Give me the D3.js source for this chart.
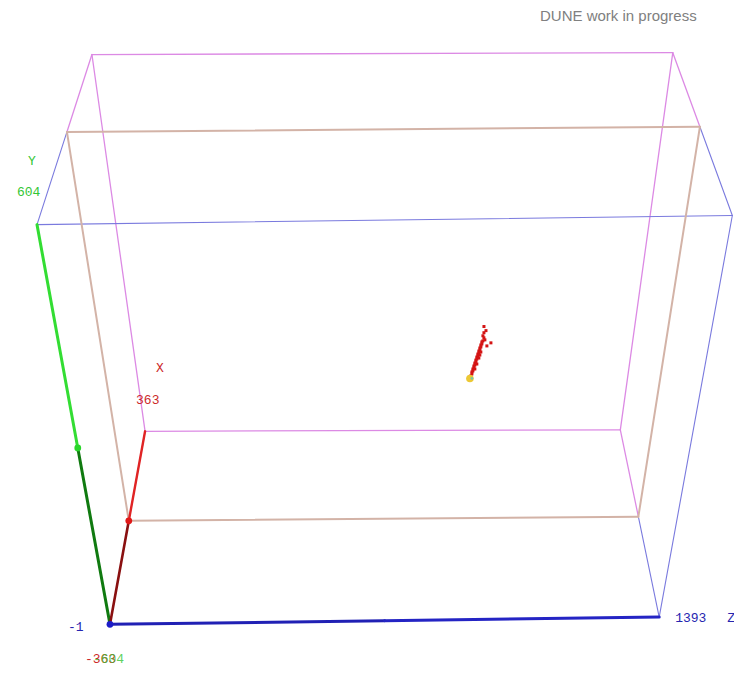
<!DOCTYPE html>
<html>
<head>
<meta charset="utf-8">
<script src="https://cdn.jsdelivr.net/npm/d3@7/dist/d3.min.js"></script>
<style>
  html, body { margin: 0; padding: 0; background: #fff; }
  svg { display: block; }
  .lbl { font-family: "Liberation Mono", "DejaVu Sans Mono", monospace; font-size: 13px; }
</style>
</head>
<body>
<svg id="chart" width="734" height="674"></svg>
<script>
// Detector extents (cm)
const xRange = [-363, 363];
const yRange = [-604, 604];
const zRange = [-1, 1393];

// Axis end labels
const xLabels = ["-363", "363"];
const yLabels = ["-604", "604"];
const zLabels = ["-1", "1393"];
const axisNames = ["X", "Y", "Z"];

// Reconstructed hits (cm)
const hitX = [0, 0, 0, 0, 0, 0, 0, 0, 0, 0, 0, 0, 0, 0, 0, 0, 0, 0, 0, 0, 0, 0, 0, 0,
              0, 0, 0, 0, 0, 0, 0, 0, 0, 0, 0, 0, 0];
const hitY = [-100.6, -94.3, -87.9, -84.7, -78.4, -75.2, -68.8, -65.7, -59.3, -56.1, -49.8, -46.6,
              -40.2, -37.0, -30.7, -27.5, -21.1, -18.0, -11.6, -8.4, -2.1, 1.1, 7.5, 10.7,
              -78.4, -62.5, -43.4, -33.9, -24.3, 20.2, 26.6, 13.8, 4.3, 36.1, 42.5, 55.2, -5.2];
const hitZ = [915.7, 917.9, 917.7, 920.0, 919.8, 922.1, 921.9, 924.2, 923.9, 926.3, 926.0, 928.4,
              928.1, 930.5, 930.2, 932.6, 932.3, 934.7, 934.4, 936.7, 936.5, 938.8, 938.6, 940.9,
              924.7, 929.0, 933.2, 935.3, 937.4, 943.0, 940.3, 945.7, 961.0, 942.4, 947.1, 941.6, 951.5];

// Interaction vertex (cm)
const vertex = [0, -109, 913.5];

const svg = d3.select("#chart");

// Normalise each detector coordinate to [-1, 1]
const sx = d3.scaleLinear().domain(xRange).range([-1, 1]);
const sy = d3.scaleLinear().domain(yRange).range([-1, 1]);
const sz = d3.scaleLinear().domain(zRange).range([-1, 1]);

// Perspective camera: homogeneous projection of normalised coordinates
function project(x, y, z) {
  const a = sx(x), b = sy(y), c = sz(z);
  const w = 1 + 0.08 * a - 0.108 * b;
  const u = 383.5 + 29.65 * a - 41.5 * b + 282.3 * c;
  const v = 345.1 - 63.3 * a - 229.7 * b + (-2.3 + 1.4 * a) * c;
  return [u / w, v / w];
}

const line = d3.line();
function seg(p0, p1, color, width) {
  svg.append("path")
    .attr("d", line([project(...p0), project(...p1)]))
    .attr("fill", "none")
    .attr("stroke", color)
    .attr("stroke-width", width)
    .attr("stroke-linecap", "round");
}

const [x0, x1] = xRange, [y0, y1] = yRange, [z0, z1] = zRange;
const xm = (x0 + x1) / 2, ym = (y0 + y1) / 2, zm = (z0 + z1) / 2;

const pink = "#dc8ae4", tan = "#d3b3a7", blueBox = "#7a7ade";

// Back half of the box (x from 0 to max)
for (const [ya, za, yb, zb] of [[y0, z0, y0, z1], [y1, z0, y1, z1], [y0, z0, y1, z0], [y0, z1, y1, z1]]) {
  seg([x1, ya, za], [x1, yb, zb], pink, 1.3);
}
for (const y of [y0, y1]) for (const z of [z0, z1]) {
  seg([xm, y, z], [x1, y, z], pink, 1.3);
}
// Front half of the box (x from min to 0)
for (const [ya, za, yb, zb] of [[y0, z0, y0, z1], [y1, z0, y1, z1], [y0, z0, y1, z0], [y0, z1, y1, z1]]) {
  seg([x0, ya, za], [x0, yb, zb], blueBox, 1.1);
}
for (const y of [y0, y1]) for (const z of [z0, z1]) {
  seg([x0, y, z], [xm, y, z], blueBox, 1.1);
}
// Central plane
for (const [ya, za, yb, zb] of [[y0, z0, y0, z1], [y1, z0, y1, z1], [y0, z0, y1, z0], [y0, z1, y1, z1]]) {
  seg([xm, ya, za], [xm, yb, zb], tan, 2);
}

// Axes: darker lower half, brighter upper half
seg([x0, y0, z0], [x0, y0, zm], "#2020b4", 3);
seg([x0, y0, zm], [x0, y0, z1], "#2424c4", 3);
seg([x0, y0, z0], [x0, ym, z0], "#107a10", 3);
seg([x0, ym, z0], [x0, y1, z0], "#33dd33", 3);
seg([x0, y0, z0], [xm, y0, z0], "#8a1010", 2.6);
seg([xm, y0, z0], [x1, y0, z0], "#e02424", 2.4);

function dot(p, color, r) {
  const [u, v] = project(...p);
  svg.append("circle").attr("cx", u).attr("cy", v).attr("r", r).attr("fill", color);
}
dot([x0, ym, z0], "#2ad62a", 3.4);
dot([xm, y0, z0], "#e01818", 3.4);
dot([x0, y0, z0], "#1c1cc8", 3.4);

// Axis labels, anchored at projected axis ends
function label(p, dx, dy, text, color) {
  const [u, v] = project(...p);
  svg.append("text").attr("class", "lbl")
    .attr("x", u + dx).attr("y", v + dy)
    .attr("fill", color).text(text);
}
const green = "#33c633", red = "#cc2a2a", blueTxt = "#2626b0";
label([x0, y1, z0], -9, -60, axisNames[1], green);
label([x0, y1, z0], -20, -29, yLabels[1], green);
label([x1, y0, z0], 11, -59, axisNames[0], red);
label([x1, y0, z0], -9, -27, xLabels[1], red);
label([x0, y0, z1], 16, 5, zLabels[1], blueTxt);
label([x0, y0, z1], 68, 5, axisNames[2], blueTxt);
label([x0, y0, z0], -42, 7, zLabels[0], blueTxt);
// The two lower-end labels share the origin and are drawn on top of each other
label([x0, y0, z0], -25, 39, xLabels[0], red);
label([x0, y0, z0], -17, 39, yLabels[0], "rgba(51,198,51,0.8)");

// Hits
const hits = hitX.map((x, i) => project(x, hitY[i], hitZ[i]));
svg.append("g").selectAll("rect").data(hits).join("rect")
  .attr("x", d => d[0] - 1.5).attr("y", d => d[1] - 1.5)
  .attr("width", 3).attr("height", 3)
  .attr("fill", "#d41414");

// Vertex marker
const [vu, vv] = project(...vertex);
svg.append("circle").attr("cx", vu).attr("cy", vv).attr("r", 3.8).attr("fill", "#ecc834");
svg.append("circle").attr("cx", vu + 2).attr("cy", vv).attr("r", 1.4).attr("fill", "#7cc8a0");

// Caption
svg.append("text")
  .attr("x", 540).attr("y", 21)
  .attr("font-family", "Liberation Sans, Arial, sans-serif")
  .attr("font-size", 15)
  .attr("fill", "#808080")
  .text("DUNE work in progress");
</script>
</body>
</html>
